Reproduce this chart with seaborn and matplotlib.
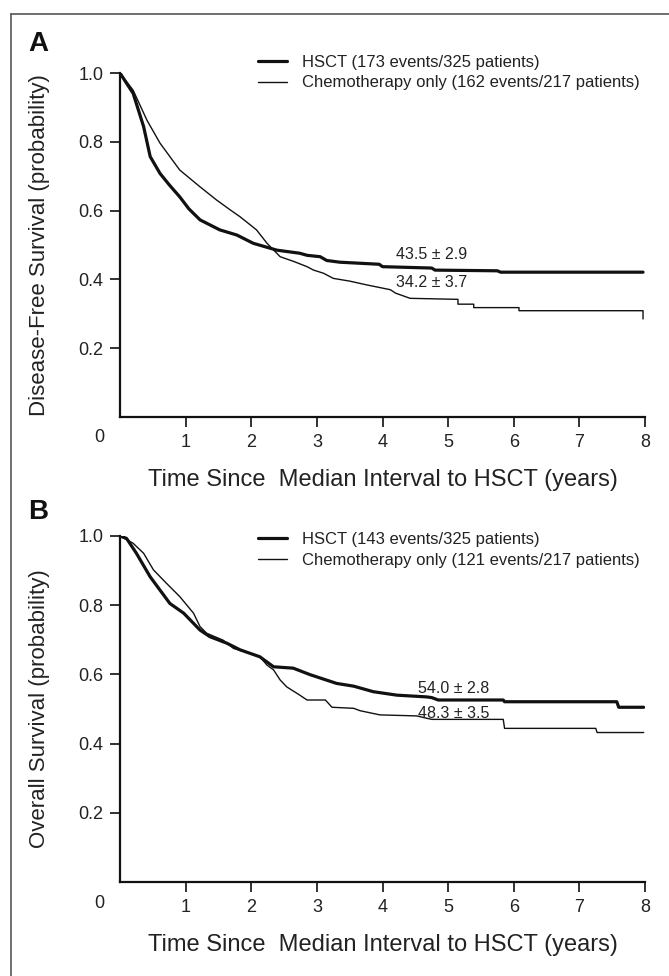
import matplotlib
matplotlib.use("Agg")
import pandas as pd
import matplotlib.pyplot as plt
import seaborn as sns

# Panel A: disease-free survival
dfs_hsct_t = [0, 0.10, 0.20, 0.36, 0.46, 0.61, 0.75, 0.91, 1.05, 1.22, 1.52, 1.78, 2.03, 2.39, 2.74,
              2.85, 3.05, 3.15, 3.35, 3.95, 4.00, 4.75, 4.80, 5.75, 5.80, 7.97]
dfs_hsct_s = [1.0, 0.97, 0.941, 0.844, 0.757, 0.708, 0.675, 0.64, 0.605, 0.573, 0.544, 0.529, 0.505, 0.485, 0.476,
              0.47, 0.466, 0.455, 0.45, 0.444, 0.437, 0.433, 0.427, 0.425, 0.421, 0.421]
dfs_chemo_t = [0, 0.20, 0.41, 0.61, 0.91, 1.22, 1.47, 1.68, 1.83, 2.08, 2.24, 2.44, 2.65, 2.85, 2.95, 3.10,
               3.25, 3.50, 3.76, 4.12, 4.20, 4.42, 5.15, 5.15, 5.39, 5.39, 6.08, 6.08, 7.97, 7.97]
dfs_chemo_s = [1.0, 0.95, 0.863, 0.796, 0.718, 0.669, 0.631, 0.602, 0.582, 0.544, 0.505, 0.466, 0.452, 0.437, 0.427, 0.418,
               0.403, 0.395, 0.384, 0.37, 0.36, 0.345, 0.342, 0.328, 0.328, 0.318, 0.318, 0.309, 0.309, 0.285]

# Panel B: overall survival
os_hsct_t = [0, 0.10, 0.25, 0.46, 0.76, 0.97, 1.22, 1.37, 1.63, 1.83, 2.13, 2.34, 2.64, 2.90, 3.30, 3.56,
             3.86, 4.22, 4.67, 4.75, 4.85, 5.84, 5.86, 7.57, 7.60, 7.98]
os_hsct_s = [1.0, 0.993, 0.95, 0.882, 0.805, 0.777, 0.728, 0.709, 0.69, 0.671, 0.651, 0.622, 0.618, 0.599, 0.574, 0.566,
             0.55, 0.54, 0.535, 0.533, 0.526, 0.526, 0.521, 0.521, 0.505, 0.505]
os_chemo_t = [0, 0.20, 0.36, 0.51, 0.71, 0.91, 1.12, 1.22, 1.32, 1.57, 1.73, 1.98, 2.13, 2.24, 2.34, 2.44, 2.54,
              2.74, 2.85, 3.13, 3.23, 3.56, 3.66, 3.96, 4.52, 4.75, 5.84, 5.86, 7.25, 7.27, 7.98]
os_chemo_s = [1.0, 0.979, 0.95, 0.902, 0.863, 0.825, 0.777, 0.738, 0.719, 0.699, 0.675, 0.661, 0.651, 0.627, 0.613, 0.584, 0.564,
              0.54, 0.526, 0.526, 0.505, 0.502, 0.495, 0.483, 0.48, 0.47, 0.47, 0.444, 0.444, 0.432, 0.432]

labels_a = ["HSCT (173 events/325 patients)", "Chemotherapy only (162 events/217 patients)"]
labels_b = ["HSCT (143 events/325 patients)", "Chemotherapy only (121 events/217 patients)"]
notes_a = [(4.75, 0.471, "43.5 ± 2.9"), (4.74, 0.390, "34.2 ± 3.7")]
notes_b = [(5.09, 0.559, "54.0 ± 2.8"), (5.09, 0.487, "48.3 ± 3.5")]
ylabels = ["Disease-Free Survival (probability)", "Overall Survival (probability)"]
xlabel = "Time Since  Median Interval to HSCT (years)"

sns.set_style("ticks")
plt.rcParams["font.family"] = ["Liberation Sans", "DejaVu Sans"]
ink = "#222222"

fig = plt.figure(figsize=(6.69, 9.76), dpi=100)
axA = fig.add_axes([120 / 669, 1 - 417 / 976, 525 / 669, 344 / 976])
axB = fig.add_axes([120 / 669, 1 - 882 / 976, 525 / 669, 346 / 976])

panels = [
    (axA, dfs_hsct_t, dfs_hsct_s, dfs_chemo_t, dfs_chemo_s, labels_a, notes_a, ylabels[0], 1.052, 344),
    (axB, os_hsct_t, os_hsct_s, os_chemo_t, os_chemo_s, labels_b, notes_b, ylabels[1], 1.011, 346),
]
for ax, ht, hs, ct, cs, labs, notes, ylab, leg_y, h_px in panels:
    df = pd.concat([
        pd.DataFrame({"time": ht, "surv": hs, "group": labs[0]}),
        pd.DataFrame({"time": ct, "surv": cs, "group": labs[1]}),
    ])
    sns.lineplot(data=df, x="time", y="surv", hue="group", size="group",
                 palette={labs[0]: "#111111", labs[1]: "#111111"},
                 sizes={labs[0]: 2.3, labs[1]: 1.0},
                 estimator=None, sort=False, ax=ax)
    sns.move_legend(ax, "upper left", bbox_to_anchor=((258 - 120) / 525, leg_y),
                    frameon=False, title=None, borderaxespad=0, borderpad=0,
                    handlelength=1.75, handletextpad=0.9, labelspacing=0.32,
                    prop={"size": 12})
    for t in ax.get_legend().get_texts():
        t.set_color(ink)
    for x, y, s in notes:
        ax.text(x, y, s, ha="center", va="center", fontsize=11.5, color=ink)

    ax.set_xlim(0, 8)
    ax.set_ylim(0, 1.0)
    ax.set_xticks(range(1, 9))
    ax.set_yticks([0.2, 0.4, 0.6, 0.8, 1.0])
    ax.set_yticklabels(["0.2", "0.4", "0.6", "0.8", "1.0"])
    ax.tick_params(axis="both", labelsize=13, colors=ink, length=7, width=1.3, pad=5)
    sns.despine(ax=ax)
    for side in ["left", "bottom"]:
        ax.spines[side].set_linewidth(1.6)
        ax.spines[side].set_color("#111111")
    ax.text(-21 / 525, -21 / h_px, "0", transform=ax.transAxes, ha="center", va="center",
            fontsize=13, color=ink)

    ax.set_xlabel(xlabel, fontsize=17, color=ink)
    ax.xaxis.label.set_va("center")
    ax.xaxis.set_label_coords(0.5, -63 / h_px)
    ax.set_ylabel(ylab, fontsize=16, color=ink)
    ax.yaxis.label.set_va("center")
    ax.yaxis.set_label_coords(-80 / 525, 0.5)

fig.text(38 / 669, 1 - 44 / 976, "A", fontsize=20, fontweight="bold", ha="center", va="center",
         color="#111111")
fig.text(38 / 669, 1 - 512 / 976, "B", fontsize=20, fontweight="bold", ha="center", va="center",
         color="#111111")

# frame around the figure (top and left edges visible)
fig.add_artist(plt.Line2D([11 / 669, 1], [1 - 14 / 976] * 2, transform=fig.transFigure,
                          color="#555555", lw=1.2))
fig.add_artist(plt.Line2D([11 / 669] * 2, [0, 1 - 14 / 976], transform=fig.transFigure,
                          color="#555555", lw=1.2))

fig.savefig("out.png", dpi=100)
